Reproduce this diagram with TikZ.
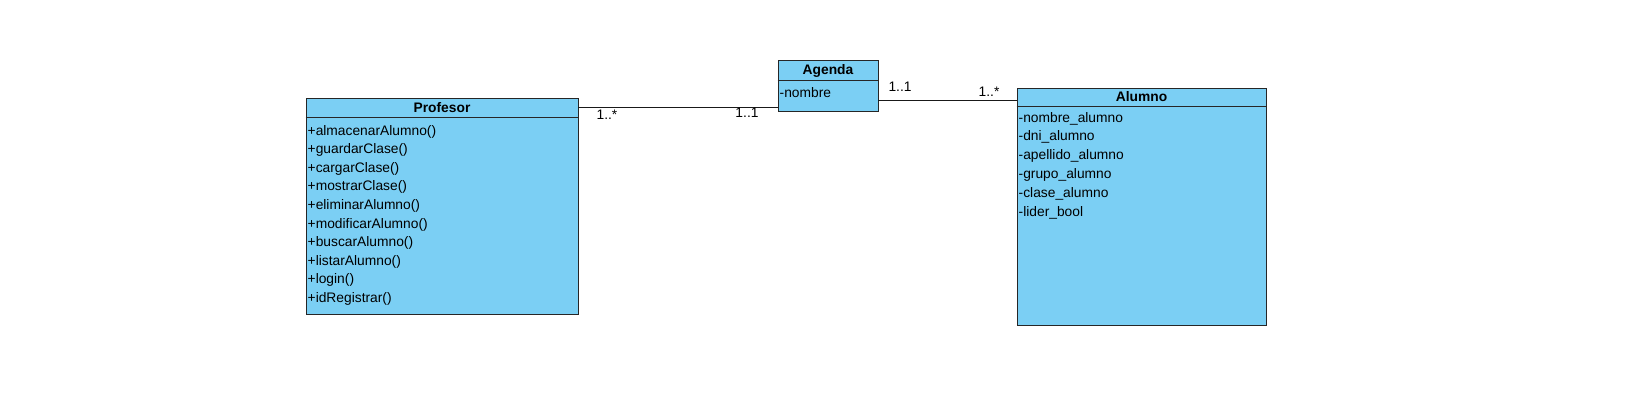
\documentclass[tikz,border=0pt]{standalone}
\usepackage{fontspec}
\setmainfont{Liberation Sans}
\begin{document}
\begin{tikzpicture}[x=1pt,y=-1pt,
  classbox/.style={draw=black!85, line width=0.95pt, fill=umlblue, inner sep=0pt, rectangle},
  sep/.style={line width=0.95pt, draw=black!85},
  hdr/.style={font=\fontsize{13.8}{15}\selectfont\bfseries, inner sep=0pt, anchor=center},
  member/.style={font=\fontsize{13.8}{15}\selectfont, inner sep=0pt, anchor=west},
  mult/.style={font=\fontsize{13.8}{15}\selectfont, inner sep=0pt, anchor=center},
  assoc/.style={draw=black!90, line width=0.9pt}
]
\definecolor{umlblue}{RGB}{123,207,244}
\useasboundingbox[fill=white] (0,0) rectangle (1644,412);

% Profesor
\node[classbox, minimum width=272pt, minimum height=216pt] (prof) at (442,206) {};
\draw[sep] (prof.north west |- 0,117) -- (prof.north east |- 0,117);
\node[hdr] (profh) at (442,107.5) {Profesor};
\foreach \t [count=\i from 0] in {+almacenarAlumno(),+guardarClase(),+cargarClase(),+mostrarClase(),+eliminarAlumno(),+modificarAlumno(),+buscarAlumno(),+listarAlumno(),+login(),+idRegistrar()}
  \node[member] (pm\i) at (307.5,{131.5+18.6*\i}) {\t};

% Agenda
\node[classbox, minimum width=100pt, minimum height=51pt] (agenda) at (828,85.5) {};
\draw[sep] (agenda.north west |- 0,80) -- (agenda.north east |- 0,80);
\node[hdr] (agh) at (828,70.5) {Agenda};
\node[member] (ag0) at (779.5,93) {-nombre};

% Alumno
\node[classbox, minimum width=249pt, minimum height=237pt] (alumno) at (1141.5,206.5) {};
\draw[sep] (alumno.north west |- 0,106) -- (alumno.north east |- 0,106);
\node[hdr] (alh) at (1141.5,97) {Alumno};
\foreach \t [count=\i from 0] in {-nombre\_alumno,-dni\_alumno,-apellido\_alumno,-grupo\_alumno,-clase\_alumno,-lider\_bool}
  \node[member] (al\i) at (1018.5,{118.5+18.8*\i}) {\t};

% associations
\draw[assoc] (prof.east |- 0,107) -- (agenda.west |- 0,107);
\draw[assoc] (agenda.east |- 0,100.5) -- (alumno.west |- 0,100.5);

\node[mult] (m1) at (607,115) {1..*};
\node[mult] (m2) at (747,113) {1..1};
\node[mult] (m3) at (900,87) {1..1};
\node[mult] (m4) at (989,92) {1..*};
\end{tikzpicture}
\end{document}
